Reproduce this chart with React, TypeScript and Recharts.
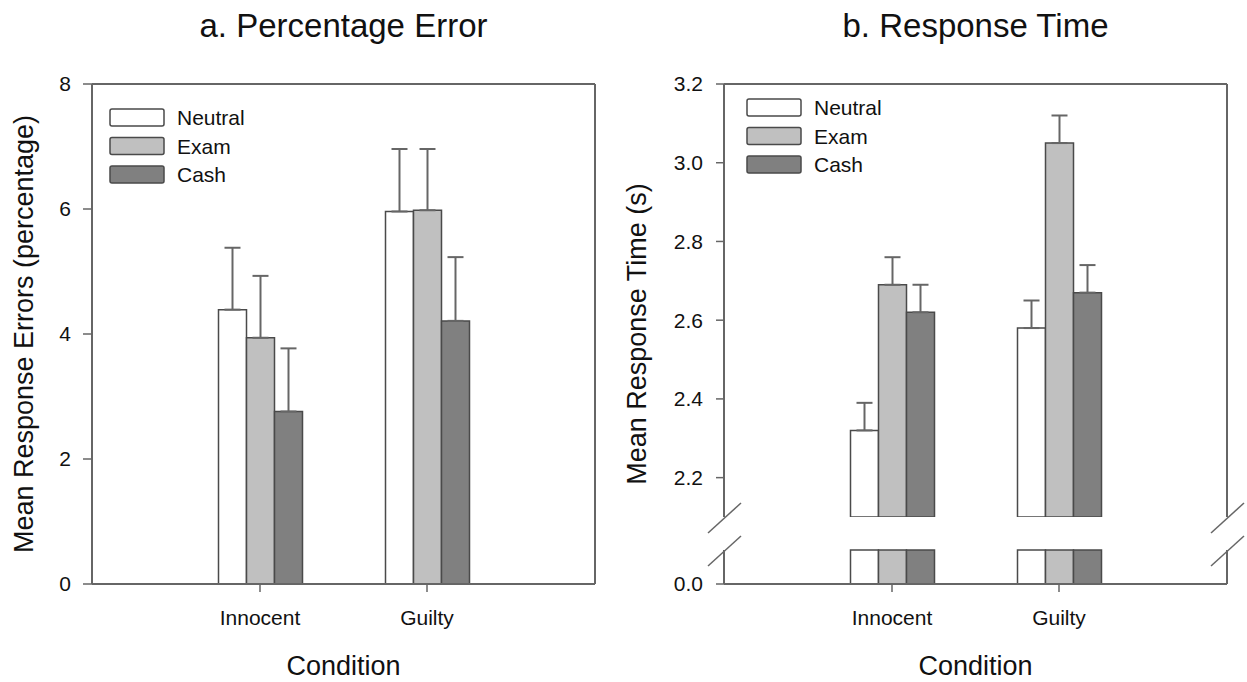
import React from 'react';
import { BarChart, Bar, XAxis, YAxis, ErrorBar, Legend } from 'recharts';

// ---------- data ----------
const conditions = ['Innocent', 'Guilty'];
const seriesNames = ['Neutral', 'Exam', 'Cash'];

// panel a: percentage error (mean, SE)
const errNeutral = [4.39, 5.96];
const errNeutralSE = [0.99, 1.0];
const errExam = [3.94, 5.98];
const errExamSE = [0.99, 0.98];
const errCash = [2.76, 4.21];
const errCashSE = [1.01, 1.02];
const errTicks = [0, 2, 4, 6, 8];
const errDomain = [0, 8];

// panel b: response time (mean, SE)
const rtNeutral = [2.32, 2.58];
const rtNeutralSE = [0.07, 0.07];
const rtExam = [2.69, 3.05];
const rtExamSE = [0.07, 0.07];
const rtCash = [2.62, 2.67];
const rtCashSE = [0.07, 0.07];
const rtUpperTicks = [2.2, 2.4, 2.6, 2.8, 3.0, 3.2];
const rtUpperDomain = [2.1, 3.2];
const rtLowerTicks = [0];
const rtLowerDomain = [0, 0.09];

// ---------- styles ----------
const FONT = '"Liberation Sans", Arial, Helvetica, sans-serif';
const TEXT = '#111111';
const AXIS = '#666666';
const BAR_STROKE = '#4a4a4a';
const FILLS: Record<string, string> = { Neutral: '#ffffff', Exam: '#c0c0c0', Cash: '#808080' };

const errData = conditions.map((c, i) => ({
  condition: c,
  Neutral: errNeutral[i],
  NeutralErr: [0, errNeutralSE[i]],
  Exam: errExam[i],
  ExamErr: [0, errExamSE[i]],
  Cash: errCash[i],
  CashErr: [0, errCashSE[i]],
}));

const rtData = conditions.map((c, i) => ({
  condition: c,
  Neutral: rtNeutral[i],
  NeutralErr: [0, rtNeutralSE[i]],
  Exam: rtExam[i],
  ExamErr: [0, rtExamSE[i]],
  Cash: rtCash[i],
  CashErr: [0, rtCashSE[i]],
}));

const rtLowerData = conditions.map((c, i) => ({
  condition: c,
  Neutral: Math.min(rtNeutral[i], rtLowerDomain[1]),
  Exam: Math.min(rtExam[i], rtLowerDomain[1]),
  Cash: Math.min(rtCash[i], rtLowerDomain[1]),
}));

const tickStyle = { fill: TEXT, fontSize: 21, fontFamily: FONT };
const axisLine = { stroke: AXIS, strokeWidth: 2 };
const tickLine = { stroke: AXIS, strokeWidth: 1.5 };

const RotatedTitle = (props: any) => {
  const { tx, ty, title } = props;
  return (
    <text
      x={tx}
      y={ty}
      transform={`rotate(-90, ${tx}, ${ty})`}
      textAnchor="middle"
      fill={TEXT}
      fontSize={27}
      fontFamily={FONT}
    >
      {title}
    </text>
  );
};

const LegendBox = () => (
  <svg width={180} height={92} style={{ overflow: 'visible', display: 'block' }}>
    {seriesNames.map((name, i) => {
      const y = 1 + i * 28.5;
      return (
        <g key={name}>
          <rect x={1} y={y} width={54} height={17} rx={2} fill={FILLS[name]} stroke={BAR_STROKE} strokeWidth={1.5} />
          <text x={68} y={y + 16} fill={TEXT} fontSize={21} fontFamily={FONT}>
            {name}
          </text>
        </g>
      );
    })}
  </svg>
);

const bars = (withErr: boolean) =>
  seriesNames.map((name) => (
    <Bar
      key={name}
      dataKey={name}
      name={name}
      fill={FILLS[name]}
      stroke={BAR_STROKE}
      strokeWidth={1.5}
      isAnimationActive={false}
    >
      {withErr ? (
        <ErrorBar dataKey={`${name}Err`} direction="y" width={8} stroke={AXIS} strokeWidth={2} />
      ) : null}
    </Bar>
  ));

const PAD = { left: 84.5, right: 84.5 };
const conditionLabel = { value: 'Condition', position: 'insideBottom', offset: 7, fill: TEXT, fontSize: 27, fontFamily: FONT } as any;

export default function App() {
  return (
    <div style={{ position: 'absolute', left: 0, top: 0, width: 1247, height: 682, background: '#ffffff' }}>
      {/* Panel a */}
      <div style={{ position: 'absolute', left: 0, top: 0 }}>
        <BarChart
          width={620}
          height={682}
          data={errData}
          margin={{ top: 83, right: 24, bottom: 0, left: 0 }}
          barSize={28}
          barGap={0}
        >
          <XAxis
            dataKey="condition"
            height={98}
            padding={PAD}
            interval={0}
            tickSize={8}
            tickMargin={18}
            tick={tickStyle}
            axisLine={axisLine}
            tickLine={tickLine}
            label={conditionLabel}
          />
          <XAxis xAxisId="top" orientation="top" dataKey="condition" height={1} padding={PAD} tick={false} tickLine={false} axisLine={axisLine} />
          <YAxis
            type="number"
            width={92}
            domain={errDomain}
            ticks={errTicks}
            interval={0}
            tickSize={9}
            tickMargin={12}
            tick={tickStyle}
            axisLine={axisLine}
            tickLine={tickLine}
            label={<RotatedTitle tx={33} ty={334} title="Mean Response Errors (percentage)" />}
          />
          <YAxis yAxisId="right" orientation="right" type="number" width={1} domain={[0, 1]} tick={false} tickLine={false} axisLine={axisLine} />
          {bars(true)}
          <Legend
            layout="vertical"
            align="center"
            verticalAlign="middle"
            wrapperStyle={{ left: 109, top: 108, width: 180, height: 92 }}
            content={() => <LegendBox />}
          />
        </BarChart>
      </div>

      {/* Panel b, lower (broken) segment */}
      <div style={{ position: 'absolute', left: 620, top: 0 }}>
        <BarChart
          width={627}
          height={682}
          data={rtLowerData}
          margin={{ top: 550, right: 19, bottom: 0, left: 0 }}
          barSize={28}
          barGap={0}
        >
          <XAxis
            dataKey="condition"
            height={98}
            padding={PAD}
            interval={0}
            tickSize={8}
            tickMargin={18}
            tick={tickStyle}
            axisLine={axisLine}
            tickLine={tickLine}
            label={conditionLabel}
          />
          <YAxis
            type="number"
            width={104}
            domain={rtLowerDomain}
            ticks={rtLowerTicks}
            interval={0}
            tickSize={8}
            tickMargin={13}
            tick={tickStyle}
            tickFormatter={(v: number) => v.toFixed(1)}
            axisLine={axisLine}
            tickLine={tickLine}
          />
          <YAxis yAxisId="right" orientation="right" type="number" width={1} domain={[0, 1]} tick={false} tickLine={false} axisLine={axisLine} />
          {bars(false)}
        </BarChart>
      </div>

      {/* Panel b, upper segment */}
      <div style={{ position: 'absolute', left: 620, top: 0 }}>
        <BarChart
          width={627}
          height={682}
          data={rtData}
          margin={{ top: 83, right: 19, bottom: 165, left: 0 }}
          barSize={28}
          barGap={0}
        >
          <XAxis dataKey="condition" hide padding={PAD} />
          <XAxis xAxisId="top" orientation="top" dataKey="condition" height={1} padding={PAD} tick={false} tickLine={false} axisLine={axisLine} />
          <YAxis
            type="number"
            width={104}
            domain={rtUpperDomain}
            ticks={rtUpperTicks}
            interval={0}
            allowDataOverflow
            tickSize={8}
            tickMargin={13}
            tick={tickStyle}
            tickFormatter={(v: number) => v.toFixed(1)}
            axisLine={axisLine}
            tickLine={tickLine}
            label={<RotatedTitle tx={26} ty={334} title="Mean Response Time (s)" />}
          />
          <YAxis yAxisId="right" orientation="right" type="number" width={1} domain={[0, 1]} tick={false} tickLine={false} axisLine={axisLine} />
          {bars(true)}
          <Legend
            layout="vertical"
            align="center"
            verticalAlign="middle"
            wrapperStyle={{ left: 126, top: 98, width: 180, height: 92 }}
            content={() => <LegendBox />}
          />
        </BarChart>
      </div>

      {/* titles and axis-break marks */}
      <svg width={1247} height={682} style={{ position: 'absolute', left: 0, top: 0, pointerEvents: 'none' }}>
        <text x={343.5} y={37} textAnchor="middle" fill={TEXT} fontSize={33} fontFamily={FONT}>
          a. Percentage Error
        </text>
        <text x={975.5} y={37} textAnchor="middle" fill={TEXT} fontSize={33} fontFamily={FONT}>
          b. Response Time
        </text>
        {[0, 503].map((dx) => (
          <g key={dx} stroke={AXIS} strokeWidth={1.5}>
            <line x1={708 + dx} y1={533} x2={741 + dx} y2={503} />
            <line x1={708 + dx} y1={566} x2={741 + dx} y2={536} />
          </g>
        ))}
      </svg>
    </div>
  );
}
